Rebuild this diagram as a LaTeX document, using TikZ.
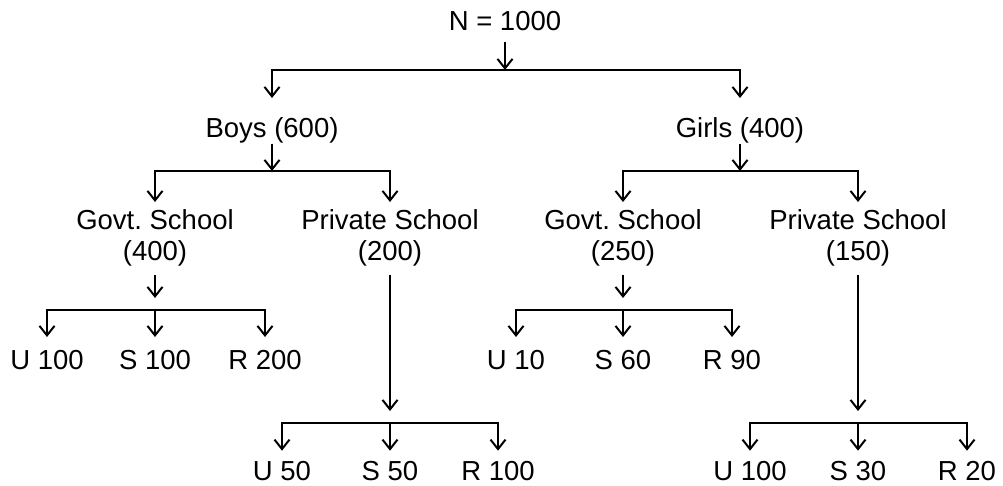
\documentclass[tikz,border=0pt]{standalone}
\usepackage{fontspec}
\setmainfont{Liberation Sans}
\usetikzlibrary{arrows.meta}

\begin{document}
\begin{tikzpicture}[x=1pt,y=-1pt,
        lbl/.style={font=\fontsize{27.5}{31}\selectfont,inner sep=0pt,outer sep=0pt,anchor=base},
        rootlbl/.style={lbl,text height=19pt,text depth=12pt},
        sexlbl/.style={lbl,text height=39.5pt,text depth=6pt},
        schoollbl/.style={lbl,anchor=north,align=center,outer ysep=8pt},
        leafa/.style={lbl,text height=32.5pt,text depth=0pt},
        leafb/.style={lbl,text height=29.3pt,text depth=0pt},
        arr/.style={-{Straight Barb[length=9.5pt,width=15pt]},line width=2pt},
        gap/.style={arr,shorten >=12pt}]
    \useasboundingbox (0,0) rectangle (1003,485);

    \node[rootlbl] (n) at (505,30) {N = 1000};
    \node[sexlbl] (boys) at (272,137.5) {Boys (600)};
    \node[sexlbl] (girls) at (740,137.5) {Girls (400)};

    \node[schoollbl] (bgov) at (155,202) {Govt.\ School\\(400)};
    \node[schoollbl] (bpvt) at (390,202) {Private School\\(200)};
    \node[schoollbl] (ggov) at (623,202) {Govt.\ School\\(250)};
    \node[schoollbl] (gpvt) at (858,202) {Private School\\(150)};

    \node[leafa] (bgu) at (47,369.5) {U 100};
    \node[leafa] (bgs) at (155,369.5) {S 100};
    \node[leafa] (bgr) at (265,369.5) {R 200};
    \node[leafa] (ggu) at (516,369.5) {U 10};
    \node[leafa] (ggs) at (623,369.5) {S 60};
    \node[leafa] (ggr) at (732,369.5) {R 90};

    \node[leafb] (bpu) at (282,480) {U 50};
    \node[leafb] (bps) at (390,480) {S 50};
    \node[leafb] (bpr) at (498,480) {R 100};
    \node[leafb] (gpu) at (750,480) {U 100};
    \node[leafb] (gps) at (858,480) {S 30};
    \node[leafb] (gpr) at (967,480) {R 20};

    \coordinate (jn) at (505,70);
    \coordinate (jb) at (272,171);
    \coordinate (jg) at (740,171);
    \coordinate (jbg) at (155,310);
    \coordinate (jgg) at (623,310);
    \coordinate (jbp) at (390,423);
    \coordinate (jgp) at (858,423);

    \draw[arr] (n) -- (jn);
    \draw[arr] (jn) -| (boys);
    \draw[arr] (jn) -| (girls);

    \draw[arr] (boys) -- (jb);
    \draw[arr] (jb) -| (bgov);
    \draw[arr] (jb) -| (bpvt);
    \draw[arr] (girls) -- (jg);
    \draw[arr] (jg) -| (ggov);
    \draw[arr] (jg) -| (gpvt);

    \draw[gap] (bgov) -- (jbg);
    \draw[arr] (jbg) -| (bgu);
    \draw[arr] (jbg) -- (bgs);
    \draw[arr] (jbg) -| (bgr);

    \draw[gap] (ggov) -- (jgg);
    \draw[arr] (jgg) -| (ggu);
    \draw[arr] (jgg) -- (ggs);
    \draw[arr] (jgg) -| (ggr);

    \draw[gap] (bpvt) -- (jbp);
    \draw[arr] (jbp) -| (bpu);
    \draw[arr] (jbp) -- (bps);
    \draw[arr] (jbp) -| (bpr);

    \draw[gap] (gpvt) -- (jgp);
    \draw[arr] (jgp) -| (gpu);
    \draw[arr] (jgp) -- (gps);
    \draw[arr] (jgp) -| (gpr);
\end{tikzpicture}
\end{document}
